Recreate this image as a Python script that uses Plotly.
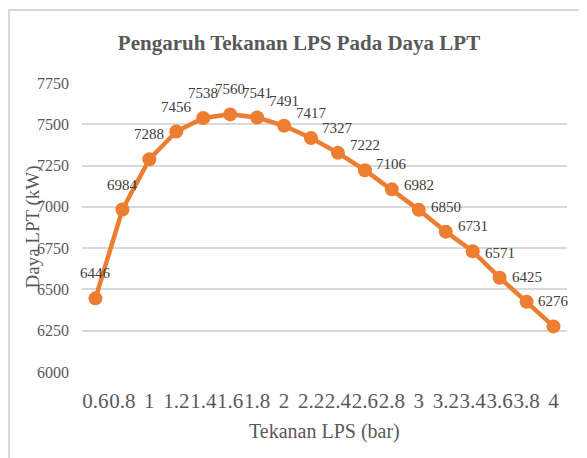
import plotly.graph_objects as go

categories = ["0.6", "0.8", "1", "1.2", "1.4", "1.6", "1.8", "2", "2.2", "2.4",
              "2.6", "2.8", "3", "3.2", "3.4", "3.6", "3.8", "4"]
daya_lpt = [6446, 6984, 7288, 7456, 7538, 7560, 7541, 7491, 7417, 7327,
            7222, 7106, 6982, 6850, 6731, 6571, 6425, 6276]
y_ticks = [6000, 6250, 6500, 6750, 7000, 7250, 7500, 7750]

title_text = "Pengaruh Tekanan LPS Pada Daya LPT"
x_title = "Tekanan LPS (bar)"
y_title = "Daya LPT (kW)"

FONT = "Liberation Serif, Times New Roman, serif"
ORANGE = "#ED7D31"
GRAY = "#595959"

# the page adds an 8px body margin, so work in figure pixels = screen - 8
PL, PR, PT, PB = 74, 559, 75, 364
W, H = 587, 458

fig = go.Figure()
fig.add_trace(go.Scatter(
    x=categories, y=daya_lpt, mode="lines+markers",
    line=dict(color=ORANGE, width=4.5),
    marker=dict(color=ORANGE, size=14),
    hoverinfo="x+y", showlegend=False,
))

annotations = []
for i, v in enumerate(daya_lpt):
    annotations.append(dict(
        x=i, y=v, xref="x", yref="y", text=str(v), showarrow=False,
        yshift=25, xanchor="center", yanchor="middle",
        font=dict(family=FONT, size=15, color="#404040"),
    ))
annotations.append(dict(
    x=0.5, y=0, xref="paper", yref="paper", text=x_title, showarrow=False,
    yshift=-59, xanchor="center", yanchor="middle",
    font=dict(family=FONT, size=20, color=GRAY),
))
annotations.append(dict(
    x=0, y=0.5, xref="paper", yref="paper", text=y_title, showarrow=False,
    xshift=-50, textangle=-90, xanchor="center", yanchor="middle",
    font=dict(family=FONT, size=19, color=GRAY),
))

pw, ph = PR - PL, PB - PT
fig.update_layout(
    width=W, height=H,
    margin=dict(l=PL, r=W - PR, t=PT, b=H - PB),
    paper_bgcolor="white", plot_bgcolor="white",
    title=dict(text="<b>" + title_text + "</b>", x=291 / W, xanchor="center",
               y=1 - 35 / H, yanchor="middle",
               font=dict(family=FONT, size=21, color=GRAY)),
    annotations=annotations,
    xaxis=dict(type="category", range=[-0.5, len(categories) - 0.5],
               showgrid=False, zeroline=False, showline=False, ticks="",
               tickangle=0,
               tickfont=dict(family=FONT, size=21, color=GRAY),
               ticklabelstandoff=14),
    yaxis=dict(range=[6000, 7750], tickvals=y_ticks,
               showgrid=True, gridcolor="#D9D9D9", gridwidth=1.5,
               zeroline=False, showline=False, ticks="",
               tickfont=dict(family=FONT, size=16, color=GRAY),
               ticklabelstandoff=12),
    shapes=[dict(type="rect", xref="paper", yref="paper",
                 x0=(1 - PL) / pw, x1=(640 - PL) / pw,
                 y0=(PB - 500) / ph, y1=(PB - 2) / ph,
                 line=dict(color="#D9D9D9", width=2), layer="below")],
)

fig.write_html("out.html")
